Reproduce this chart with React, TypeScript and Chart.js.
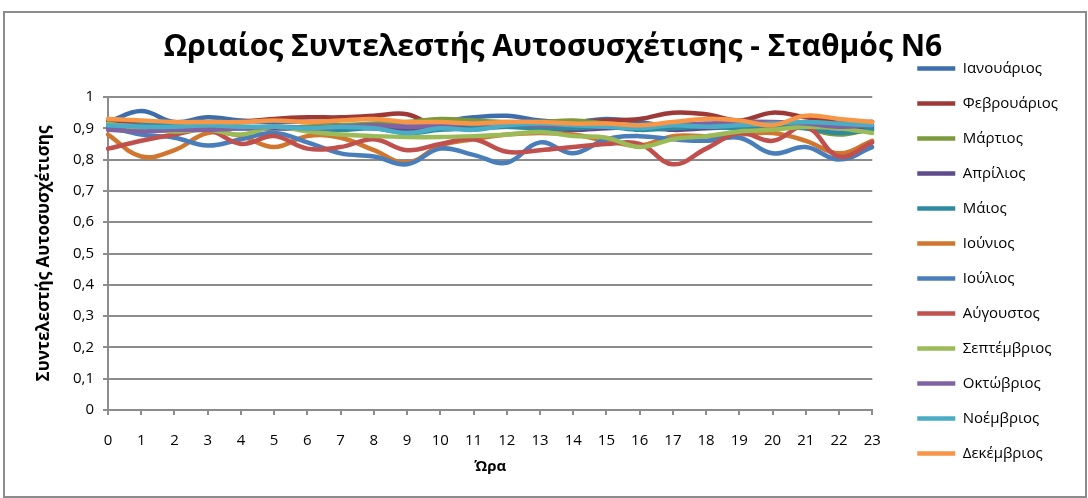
import React, { useEffect, useRef } from "react";
import { Chart, registerables } from "chart.js";

Chart.register(...registerables);

const hours = ["0","1","2","3","4","5","6","7","8","9","10","11","12","13","14","15","16","17","18","19","20","21","22","23"];

const monthNames = ["Ιανουάριος","Φεβρουάριος","Μάρτιος","Απρίλιος","Μάιος","Ιούνιος","Ιούλιος","Αύγουστος","Σεπτέμβριος","Οκτώβριος","Νοέμβριος","Δεκέμβριος"];

const monthColors = ["#3d6eab","#9d3a37","#7a9a3c","#5f4a8b","#2e8b9f","#d0762f","#4a7ebb","#c0504d","#9bbb59","#8064a2","#4bacc6","#f79646"];

const jan = [0.92,0.955,0.92,0.935,0.925,0.92,0.92,0.91,0.91,0.905,0.92,0.935,0.94,0.925,0.92,0.93,0.92,0.905,0.91,0.92,0.91,0.915,0.915,0.92];
const feb = [0.925,0.92,0.915,0.91,0.92,0.93,0.935,0.935,0.94,0.945,0.9,0.905,0.91,0.92,0.92,0.925,0.93,0.95,0.945,0.925,0.95,0.935,0.92,0.92];
const mar = [0.91,0.905,0.9,0.905,0.905,0.9,0.905,0.91,0.915,0.92,0.93,0.925,0.92,0.92,0.925,0.915,0.91,0.915,0.91,0.915,0.915,0.9,0.88,0.9];
const apr = [0.9,0.895,0.9,0.905,0.9,0.9,0.9,0.905,0.9,0.895,0.9,0.9,0.905,0.9,0.895,0.9,0.905,0.895,0.9,0.905,0.91,0.905,0.9,0.905];
const may = [0.905,0.91,0.91,0.905,0.9,0.905,0.9,0.895,0.9,0.885,0.895,0.9,0.905,0.9,0.9,0.905,0.895,0.9,0.905,0.9,0.905,0.9,0.885,0.895];
const jun = [0.88,0.81,0.83,0.885,0.875,0.84,0.875,0.87,0.83,0.79,0.845,0.865,0.88,0.885,0.88,0.86,0.845,0.875,0.875,0.88,0.885,0.86,0.82,0.86];
const jul = [0.905,0.88,0.87,0.845,0.865,0.885,0.855,0.82,0.81,0.785,0.835,0.815,0.79,0.855,0.82,0.865,0.875,0.865,0.86,0.87,0.82,0.84,0.8,0.84];
const aug = [0.835,0.86,0.88,0.895,0.85,0.875,0.835,0.84,0.865,0.83,0.85,0.865,0.825,0.83,0.84,0.85,0.85,0.785,0.835,0.885,0.86,0.905,0.81,0.855];
const sep = [0.915,0.9,0.89,0.895,0.88,0.905,0.89,0.88,0.875,0.872,0.872,0.875,0.88,0.888,0.875,0.87,0.84,0.865,0.875,0.89,0.895,0.905,0.9,0.885];
const oct = [0.895,0.89,0.895,0.895,0.9,0.905,0.9,0.905,0.91,0.905,0.91,0.915,0.915,0.91,0.91,0.905,0.91,0.91,0.915,0.92,0.92,0.915,0.905,0.91];
const nov = [0.91,0.905,0.905,0.91,0.905,0.905,0.9,0.905,0.9,0.885,0.9,0.895,0.91,0.915,0.91,0.905,0.9,0.91,0.905,0.91,0.915,0.92,0.915,0.91];
const dec = [0.93,0.925,0.92,0.92,0.92,0.925,0.92,0.925,0.93,0.92,0.92,0.915,0.92,0.92,0.915,0.915,0.91,0.92,0.93,0.925,0.91,0.94,0.93,0.92];

const monthValues = [jan, feb, mar, apr, may, jun, jul, aug, sep, oct, nov, dec];

const titleText = "Ωριαίος Συντελεστής Αυτοσυσχέτισης - Σταθμός Ν6";
const yTitle = "Συντελεστής Αυτοσυσχέτισης";
const xTitle = "Ώρα";

const FONT = "'Open Sans', 'Noto Sans', sans-serif";
const GRID = "#8c8c8c";

const titleShift = {
  id: "titleShift",
  afterLayout(chart: any) {
    const t = chart.titleBlock;
    if (t) t.left += 38;
  },
};

export default function App() {
  const ref = useRef<HTMLCanvasElement>(null);
  useEffect(() => {
    if (!ref.current) return;
    const datasets = monthNames.map((name, i) => ({
      label: name,
      data: monthValues[i],
      borderColor: monthColors[i],
      backgroundColor: monthColors[i],
      borderWidth: 4.5,
      borderCapStyle: "round" as const,
      borderJoinStyle: "round" as const,
      pointRadius: 0,
      pointHoverRadius: 0,
      tension: 0.4,
      fill: false,
      order: 12 - i,
    }));
    const chart = new Chart(ref.current, {
      type: "line",
      data: { labels: hours, datasets },
      plugins: [titleShift],
      options: {
        animation: false,
        responsive: false,
        devicePixelRatio: 1,
        layout: { padding: { top: 29, bottom: 5, left: 0, right: 20 } },
        plugins: {
          tooltip: { enabled: false },
          title: {
            display: true,
            text: titleText,
            color: "#000",
            font: { family: FONT, size: 30, weight: "bold", lineHeight: 1.2 },
            padding: { top: 0, bottom: 32 },
          },
          legend: {
            position: "right",
            align: "center",
            labels: {
              color: "#000",
              font: { family: FONT, size: 15 },
              usePointStyle: true,
              pointStyle: "line",
              pointStyleWidth: 38,
              padding: 20,
              sort: (a: any, b: any) => a.datasetIndex - b.datasetIndex,
            },
          },
        },
        scales: {
          x: {
            type: "category",
            offset: false,
            grid: { display: true, drawOnChartArea: false, drawTicks: true, tickLength: 5, color: GRID, lineWidth: 2 },
            border: { display: true, color: GRID, width: 2 },
            ticks: { color: "#000", font: { family: FONT, size: 15 }, padding: 17, maxRotation: 0, autoSkip: false },
            title: { display: true, text: xTitle, color: "#000", font: { family: FONT, size: 15, weight: "bold" }, padding: { top: 0, bottom: 17 } },
            afterFit: (s: any) => { s.height = 83; },
          },
          y: {
            min: 0,
            max: 1,
            ticks: {
              stepSize: 0.1,
              color: "#000",
              font: { family: FONT, size: 15 },
              padding: 9,
              callback: (v: any) => String(Number(Number(v).toFixed(1))).replace(".", ","),
            },
            grid: { color: GRID, lineWidth: 2, tickLength: 5 },
            border: { display: true, color: GRID, width: 2 },
            title: { display: true, text: yTitle, color: "#000", font: { family: FONT, size: 17, weight: "bold" }, padding: { top: 34, bottom: 0 } },
            afterFit: (s: any) => { s.width = 108; },
          },
          spacer: {
            type: "linear",
            position: "right",
            display: true,
            grid: { display: false },
            border: { display: false },
            ticks: { display: false },
            afterFit: (s: any) => { s.width = 25; },
          },
        },
      },
    });
    return () => chart.destroy();
  }, []);
  return (
    <div>
      <div style={{ position: "absolute", left: 3, top: 11, width: 1080, height: 483, border: "2px solid #8c8c8c" }} />
      <canvas ref={ref} width={1088} height={498} style={{ position: "absolute", left: 0, top: 0 }} />
    </div>
  );
}
